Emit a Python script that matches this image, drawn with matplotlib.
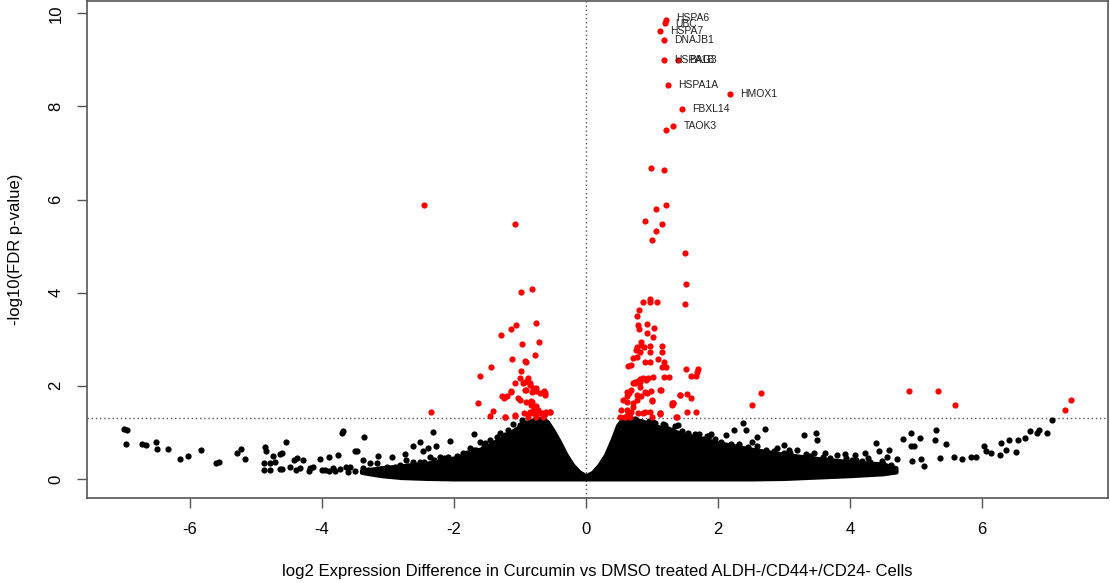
import matplotlib
matplotlib.use("Agg")
from matplotlib import pyplot as plt

# dense core of the non-significant cloud (envelope)
core_x = [-3.4, -3.1, -2.8, -2.4, -2.0, -1.7, -1.5, -1.3, -1.1, -0.95, -0.8, -0.68,
          -0.58, -0.5, -0.4, -0.3, -0.2, -0.1, 0.0, 0.1, 0.2, 0.3, 0.4, 0.48, 0.55,
          0.7, 0.9, 1.1, 1.3, 1.6, 2.0, 2.5, 3.0, 3.5, 4.0, 4.5, 4.7]
core_top = [0.18, 0.24, 0.28, 0.34, 0.45, 0.58, 0.70, 0.86, 1.04, 1.18, 1.27, 1.30,
            1.22, 1.05, 0.80, 0.52, 0.30, 0.15, 0.07, 0.14, 0.30, 0.52, 0.85, 1.15, 1.28,
            1.30, 1.22, 1.12, 1.04, 0.92, 0.78, 0.64, 0.53, 0.44, 0.37, 0.32, 0.24]
core_bottom = [0.14, 0.07, 0.03, 0.01, 0.0, 0.0, 0.0, 0.0, 0.0, 0.0, 0.0, 0.0,
               0.0, 0.0, 0.0, 0.0, 0.0, 0.0, 0.0, 0.0, 0.0, 0.0, 0.0, 0.0, 0.0,
               0.0, 0.0, 0.0, 0.0, 0.0, 0.0, 0.0, 0.01, 0.04, 0.07, 0.11, 0.15]

# scattered non-significant genes
black_x = [-7.00, -6.96, -6.97, -6.73, -6.66, -6.52, -6.50, -6.34, -6.15, -6.03, -5.83,
           -5.60, -5.56, -5.29, -5.22, -5.17, -4.87, -4.84, -4.88, -4.88, -4.79, -4.74,
           -4.71, -4.64, -4.60, -4.54, -4.43, -4.38, -4.64, -4.48, -4.28, -4.18, -4.03,
           -3.90, -3.75, -3.69, -3.68, -3.95, -3.83, -3.63, -3.50, -3.47, -3.36, -3.37,
           -3.27, -3.15, -2.94, -2.74, -2.62, -2.52, -2.47, -2.39, -2.31, -2.27, -2.52,
           -2.21, -2.06, -2.09, -1.96, -1.76, -1.69, -1.61, -1.53, -1.45, -1.35, -1.30,
           -1.23, -1.18, -1.10, -0.97, -0.60, -2.72, -2.62, -2.36, -2.11, -1.86, -1.66,
           -1.48, -1.30, -2.82, -3.02, -3.17, -3.37, -3.58, -3.73, -4.13, -4.33, -4.79,
           2.38, 2.42, 2.25, 2.72, 2.59, 1.99, 2.12, 2.32, 2.52, 2.56, 2.73, 2.90, 3.00,
           3.08, 3.31, 3.49, 3.51, 3.33, 3.46, 3.62, 3.80, 3.92, 4.08, 4.23, 4.39, 4.44,
           4.59, 4.72, 4.65, 4.80, 4.93, 5.06, 4.93, 4.98, 4.95, 5.08, 5.13, 5.30, 5.29,
           5.46, 5.36, 5.58, 5.70, 5.83, 5.91, 6.03, 6.06, 6.14, 6.27, 6.29, 6.37, 6.52,
           6.42, 6.55, 6.65, 6.73, 6.83, 6.87, 6.99, 7.07, 1.39, 1.17, 1.02, 1.71, 1.86,
           1.66, 1.84, 1.89, 1.45, 1.30, 1.35, 2.07, 2.17, 2.33, 2.48, 2.69, 2.79, 3.00,
           3.15, 3.26, 3.41, 3.51, 3.72, 3.87, 4.03, 4.18, 4.28, 4.34, 4.49, 4.57]
black_y = [1.07, 1.04, 0.74, 0.75, 0.73, 0.79, 0.64, 0.65, 0.43, 0.49, 0.62,
           0.35, 0.36, 0.55, 0.64, 0.43, 0.69, 0.59, 0.34, 0.19, 0.34, 0.49,
           0.37, 0.54, 0.55, 0.79, 0.41, 0.44, 0.21, 0.26, 0.41, 0.23, 0.42,
           0.48, 0.51, 0.98, 1.02, 0.19, 0.23, 0.25, 0.59, 0.61, 0.89, 0.41,
           0.34, 0.49, 0.48, 0.54, 0.71, 0.79, 0.59, 0.66, 1.00, 0.71, 0.37,
           0.48, 0.82, 0.47, 0.41, 0.66, 0.97, 0.80, 0.78, 0.84, 0.91, 0.98,
           0.94, 1.05, 1.18, 1.27, 1.23, 0.41, 0.37, 0.48, 0.41, 0.55, 0.62,
           0.66, 0.76, 0.30, 0.26, 0.34, 0.23, 0.26, 0.21, 0.26, 0.23, 0.19,
           1.21, 1.05, 1.05, 1.07, 0.91, 0.76, 0.94, 0.76, 0.80, 0.59, 0.63, 0.66, 0.72,
           0.63, 0.94, 0.98, 0.83, 0.53, 0.56, 0.56, 0.51, 0.53, 0.52, 0.56, 0.77, 0.59,
           0.63, 0.43, 0.17, 0.86, 0.98, 0.87, 0.70, 0.70, 0.38, 0.43, 0.27, 1.05, 0.83,
           0.75, 0.45, 0.48, 0.43, 0.48, 0.46, 0.70, 0.61, 0.56, 0.51, 0.77, 0.63, 0.58,
           0.83, 0.83, 0.87, 1.03, 0.99, 1.05, 0.99, 1.26, 1.16, 1.18, 1.23, 0.96, 0.92,
           0.96, 0.92, 0.96, 0.88, 1.04, 1.14, 0.66, 0.56, 0.63, 0.45, 0.45, 0.38, 0.56,
           0.38, 0.45, 0.41, 0.34, 0.38, 0.34, 0.41, 0.38, 0.45, 0.30, 0.38, 0.48]

# ragged points along the rim of the dense core
rim_x = [0.60, 0.75, 0.85, 0.95, 1.05, 1.20, 1.25, 1.45, 1.55, 1.65, 1.78, 1.95,
         2.05, 2.20, 2.30, 2.45, 2.60, 2.85, 3.10, 3.20, 3.40, 3.60, 3.70, 3.95,
         4.10, 4.30, 4.50, 4.62, -0.75, -0.90, -1.00, -1.15, -1.25, -1.40, -1.55,
         -1.70, -1.80, -1.95, -2.15, -2.30, -2.45, -2.60, -2.70, -2.90, -3.10, -3.30,
         -3.50, -3.60, -3.80, -3.90, -4.00, -4.20, -4.40, -4.60]
rim_y = [1.25, 1.28, 1.22, 1.25, 1.20, 1.15, 1.08, 1.02, 0.98, 0.90, 0.85, 0.86,
         0.80, 0.75, 0.70, 0.68, 0.70, 0.60, 0.55, 0.62, 0.50, 0.48, 0.45, 0.44,
         0.40, 0.37, 0.32, 0.30, 1.25, 1.20, 1.15, 0.98, 0.88, 0.78, 0.70,
         0.62, 0.55, 0.50, 0.45, 0.40, 0.36, 0.30, 0.28, 0.25, 0.22, 0.20,
         0.17, 0.15, 0.18, 0.16, 0.20, 0.18, 0.20, 0.22]

# significant genes (FDR < 0.05)
red_x = [1.21, 1.20, 1.12, 1.18, 1.18, 1.40, 1.24, 2.18, 1.45, 1.32, 1.21,
         0.98, 1.19, 1.21, 1.07, 0.90, 1.15, 1.06, 1.00, 1.50, 1.52, 1.50,
         0.97, 0.97, 0.87, 1.08, 0.81, 0.77, 0.93, 0.79, 0.81, 1.04, 0.93, 1.02,
         0.84, 0.83, 0.78, 0.88, 0.97, 1.15, 0.76, 0.82, 0.97, 1.15, 0.77, 0.72,
         1.10, 0.90, 0.97, 1.19, 0.68, 0.64, 1.15, 1.22, 1.52, 1.70, 1.69, 0.87,
         0.94, 0.82, 1.02, 1.19, 1.26, 1.60, 1.67, 0.74, 0.71, 0.79, 0.91, 0.62,
         0.66, 0.77, 0.84, 0.89, 0.98, 1.14, 1.42, 1.53, 1.60, 0.56, 0.62, 0.72,
         1.00, 1.32, 1.30, 0.54, 0.62, 0.69, 0.79, 0.89, 1.12, 1.53, 1.67, 1.37,
         0.52, 0.59, 0.67, 1.00, 0.62, 0.64, 0.59, 0.72, 0.77, 0.69, 0.82, 0.92,
         0.87, 0.97, 1.00, 1.12, 1.12, 1.32, 1.42, 0.82, 0.74, 1.13, 1.38, 1.31,
         2.52, 2.65, 4.89, 5.33, 5.59, 7.26, 7.36,
         -2.45, -1.08, -0.98, -0.81, -1.06, -1.13, -0.75, -1.28, -0.97, -0.71, -1.12,
         -0.77, -0.92, -0.90, -1.44, -0.98, -1.60, -1.00, -0.88, -1.08, -0.95, -0.85,
         -1.14, -0.92, -0.75, -0.80, -0.64, -0.62, -1.27, -1.24, -1.03, -1.00, -1.64,
         -0.91, -0.83, -0.83, -0.75, -0.78, -1.40, -2.35, -1.45, -1.22, -1.07, -0.93,
         -0.87, -0.75, -0.68, -0.55, -0.62, -1.20, -1.13, -1.23, -1.08, -0.82, -0.77,
         -0.85, -0.80, -0.72, -0.67, -0.60, -0.55, -0.90, -0.82, -0.70, -0.62, -0.75,
         -0.85, -0.92, -0.87, -0.75, -0.65]
red_y = [9.86, 9.79, 9.61, 9.42, 8.99, 8.99, 8.47, 8.27, 7.95, 7.57, 7.49,
         6.67, 6.64, 5.89, 5.79, 5.54, 5.47, 5.33, 5.14, 4.86, 4.19, 3.76,
         3.87, 3.80, 3.79, 3.79, 3.63, 3.50, 3.33, 3.30, 3.23, 3.24, 3.14, 3.05,
         2.95, 2.88, 2.84, 2.84, 2.85, 2.86, 2.77, 2.73, 2.72, 2.72, 2.62, 2.59,
         2.57, 2.52, 2.52, 2.52, 2.45, 2.42, 2.41, 2.41, 2.37, 2.36, 2.30, 2.17,
         2.17, 2.14, 2.19, 2.19, 2.19, 2.21, 2.21, 2.09, 2.07, 2.11, 2.12, 1.87,
         1.85, 1.80, 1.77, 1.87, 1.89, 1.91, 1.80, 1.82, 1.73, 1.70, 1.66, 1.62,
         1.68, 1.64, 1.59, 1.48, 1.47, 1.44, 1.41, 1.44, 1.39, 1.44, 1.44, 1.32,
         1.32, 1.34, 1.34, 1.34, 1.77, 1.44, 1.34, 1.55, 1.70, 1.91, 1.98, 1.84,
         1.41, 1.44, 1.70, 1.91, 1.41, 1.62, 1.80, 2.09, 2.05, 1.42, 1.32, 1.63,
         1.59, 1.85, 1.89, 1.89, 1.59, 1.48, 1.70,
         5.89, 5.47, 4.01, 4.07, 3.31, 3.23, 3.35, 3.08, 2.90, 2.94, 2.58,
         2.66, 2.53, 2.50, 2.41, 2.31, 2.20, 2.17, 2.16, 2.07, 2.05, 2.02,
         1.89, 1.91, 1.89, 1.95, 1.89, 1.84, 1.77, 1.74, 1.73, 1.70, 1.63,
         1.66, 1.68, 1.59, 1.56, 1.50, 1.46, 1.44, 1.35, 1.32, 1.35, 1.41,
         1.40, 1.37, 1.41, 1.44, 1.39, 1.77, 1.87, 1.34, 1.37, 1.66, 1.55,
         1.44, 1.41, 1.48, 1.41, 1.44, 1.44, 1.91, 1.87, 1.84, 1.80, 1.95,
         2.05, 2.09, 1.34, 1.32, 1.34]

# labelled genes
gene_names = ["HSPA6", "UBC", "HSPA7", "DNAJB1", "HSPA1B", "BAG3", "HSPA1A",
              "HMOX1", "FBXL14", "TAOK3"]
gene_x = [1.21, 1.20, 1.12, 1.18, 1.18, 1.40, 1.24, 2.18, 1.45, 1.32]
gene_y = [9.90, 9.76, 9.61, 9.42, 8.99, 8.99, 8.47, 8.27, 7.95, 7.57]

fdr_cutoff = 1.301  # -log10(0.05)

plt.rcParams["font.family"] = ["Liberation Sans", "DejaVu Sans"]

fig = plt.figure(figsize=(11.1, 5.83), dpi=100)
ax = fig.add_axes([0.0784, 0.1458, 0.9196, 0.8522])

ax.fill_between(core_x, core_bottom, core_top, facecolor="black",
                edgecolor="black", linewidth=3, zorder=2)
ax.scatter(black_x + rim_x, black_y + rim_y, s=20, color="black", linewidths=0, zorder=3)
ax.scatter(red_x, red_y, s=20, color="#ff0000", linewidths=0, zorder=4)

for name, gx, gy in zip(gene_names, gene_x, gene_y):
    ax.annotate(name, (gx, gy), xytext=(7.5, 0), textcoords="offset points",
                ha="left", va="center", fontsize=7.5, color="#222222", zorder=5)

ax.axhline(fdr_cutoff, color="#555555", linestyle=(0, (1, 2)), linewidth=1, zorder=1)
ax.axvline(0, color="#555555", linestyle=(0, (1, 2)), linewidth=1, zorder=1)

ax.set_xlim(-7.56, 7.91)
ax.set_ylim(-0.41, 10.26)
ax.set_xticks([-6, -4, -2, 0, 2, 4, 6])
ax.set_yticks([0, 2, 4, 6, 8, 10])
ax.set_xticklabels(["-6", "-4", "-2", "0", "2", "4", "6"])
ax.tick_params(direction="out", length=7, width=1, color="#555555",
               labelsize=12, pad=10)
for lab in ax.get_yticklabels():
    lab.set_rotation(90)
    lab.set_va("center")

for sp in ax.spines.values():
    sp.set_color("#555555")
    sp.set_linewidth(1.2)

ax.set_xlabel("log2 Expression Difference in Curcumin vs DMSO treated ALDH-/CD44+/CD24- Cells",
              fontsize=12, labelpad=20)
ax.set_ylabel("-log10(FDR p-value)", fontsize=12, labelpad=18)

fig.savefig("out.png", dpi=100)
